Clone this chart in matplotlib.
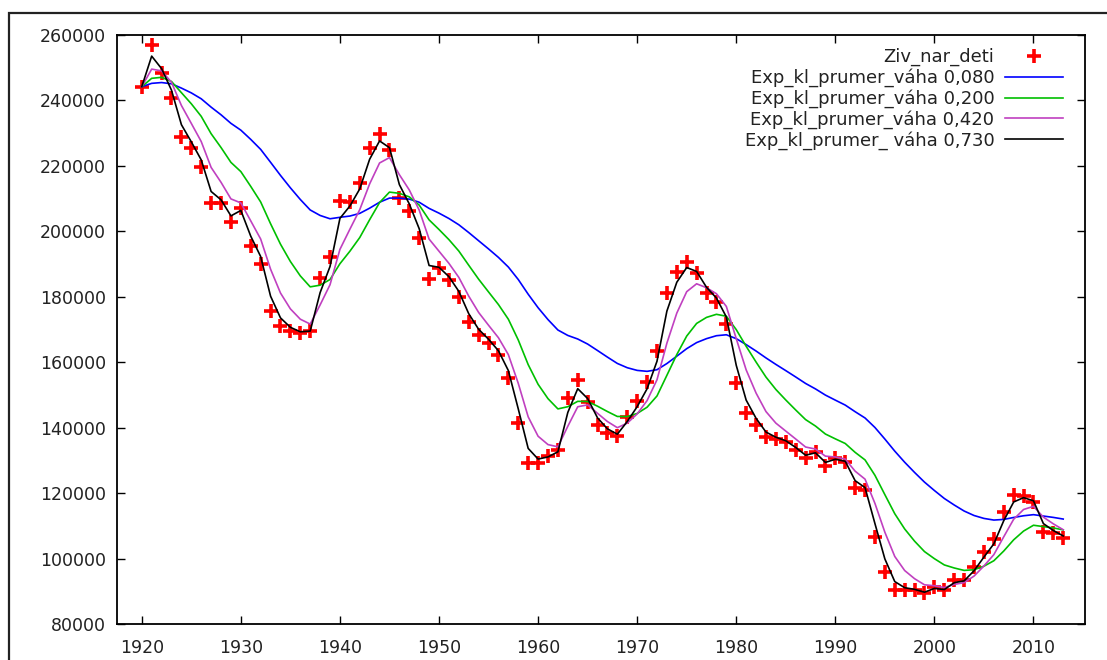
import matplotlib
matplotlib.use("Agg")
import matplotlib.pyplot as plt
from matplotlib.patches import Rectangle
import pandas as pd

years = list(range(1920, 2014))
births = [
    244200, 257000, 248300, 240700, 228700, 225400, 219800, 208600, 208700, 202900,
    207000, 195600, 190000, 175700, 171100, 169600, 168800, 169600, 185600, 192200,
    209400, 209100, 214900, 225400, 229700, 224800, 210100, 206200, 198000, 185400,
    188800, 185100, 180000, 172300, 168300, 165900, 162200, 155200, 141400, 129200,
    129200, 131300, 133200, 149100, 154600, 147800, 140800, 138400, 137400, 143300,
    148100, 153900, 163400, 181300, 187700, 190600, 187300, 181100, 178400, 171700,
    153600, 144500, 140800, 137100, 136500, 135600, 133200, 130700, 132600, 128300,
    130700, 129500, 121600, 120900, 106600, 95900, 90400, 90400, 90400, 89400,
    91300, 90400, 93400, 93400, 97400, 102000, 106000, 114200, 119400, 119100,
    117300, 108100, 107800, 106300,
]
weights = [0.08, 0.20, 0.42, 0.73]
weight_labels = ["0,080", "0,200", "0,420", "0,730"]
line_colors = ["#0000ff", "#00c000", "#c040c0", "#000000"]
series_labels = ["Exp_kl_prumer_váha " + weight_labels[0],
                 "Exp_kl_prumer_váha " + weight_labels[1],
                 "Exp_kl_prumer_váha " + weight_labels[2],
                 "Exp_kl_prumer_ váha " + weight_labels[3]]
yticks = list(range(80000, 260001, 20000))
xticks = list(range(1920, 2011, 10))

plt.rcParams['font.family'] = ['DejaVu Sans']
W, H = 1107, 660
fig = plt.figure(figsize=(W / 100, H / 100), dpi=100)
ax = fig.add_axes([117 / W, 1 - 624 / H, (1085 - 117) / W, (624 - 35) / H])

s = pd.Series(births, index=years)
ax.plot(years, births, linestyle='none', marker='+', color='#ff0000',
        markersize=10, markeredgewidth=2.6, label='Ziv_nar_deti', zorder=2)
for w, c, lab in zip(weights, line_colors, series_labels):
    sm = s.ewm(alpha=w, adjust=False).mean()
    ax.plot(sm.index, sm.values, color=c, lw=1.2, label=lab, zorder=3)

ax.set_xlim(1917.5, 2015.2)
ax.set_ylim(80000, 260000)
ax.set_xticks(xticks)
ax.set_yticks(yticks)
ax.set_yticklabels([str(v) for v in yticks])
ax.tick_params(direction='in', length=6, width=1, top=True, right=True,
               labelsize=12.5, colors='#000000', labelcolor='#222222')
ax.tick_params(axis='x', pad=11)
ax.tick_params(axis='y', pad=8)
for sp in ax.spines.values():
    sp.set_linewidth(1.3)

leg = ax.legend(loc='upper right', bbox_to_anchor=(1063 / W, 1 - 48 / H),
                bbox_transform=fig.transFigure, frameon=False, markerfirst=False,
                fontsize=13, handlelength=3.2, handletextpad=0.6,
                labelspacing=0.12, borderpad=0, borderaxespad=0)
for t in leg.get_texts():
    t.set_color('#222222')

fig.patches.append(Rectangle((9 / W, -0.1), 1.2, 1 - 13 / H + 0.1,
                             transform=fig.transFigure, fill=False,
                             edgecolor='#222222', lw=1.6))

fig.savefig('out.png', dpi=100)
